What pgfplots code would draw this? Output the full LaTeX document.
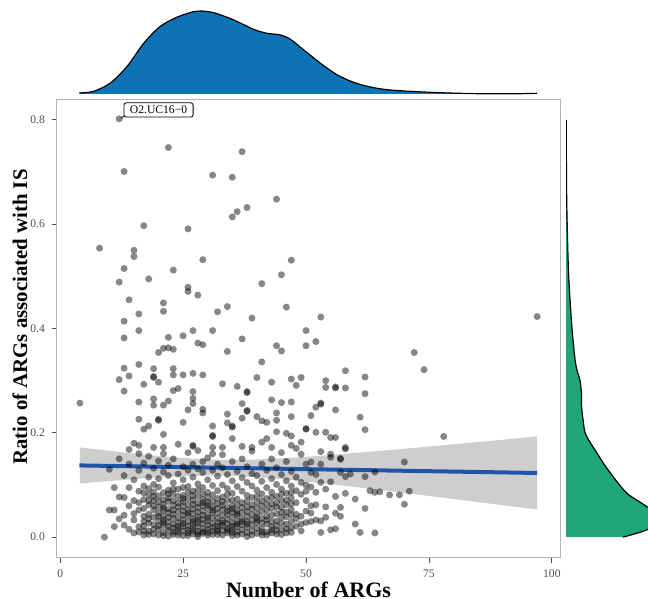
\documentclass[border=0pt]{standalone}
\usepackage{pgfplots}
\usepackage{pgfplotstable}
\pgfplotsset{compat=1.18}
\usepackage{fontspec}
\setmainfont{Liberation Serif}
\definecolor{topblue}{RGB}{14,115,180}
\definecolor{rightgreen}{RGB}{31,166,122}
\definecolor{fitblue}{RGB}{30,85,170}
\definecolor{tickgray}{RGB}{77,77,77}
\definecolor{bandgray}{RGB}{153,153,153}

\pgfplotstableread{
x y
12 0.802
22 0.747
37 0.739
13 0.701
31 0.694
35 0.690
44 0.648
38 0.632
36 0.624
35 0.614
17 0.597
26 0.591
8 0.554
15 0.550
15 0.538
29 0.532
47 0.531
13 0.515
23 0.512
12 0.489
18 0.495
26 0.479
26 0.471
28 0.464
41 0.486
45 0.503
14 0.455
21 0.449
21 0.433
16 0.428
13 0.414
32 0.432
34 0.442
39 0.420
46 0.441
53 0.422
97 0.423
16 0.396
13 0.382
22 0.383
25 0.386
27 0.396
31 0.396
37 0.380
50 0.396
20 0.354
21 0.362
22 0.363
23 0.360
28 0.372
29 0.369
34 0.356
44 0.367
45 0.357
41 0.336
13 0.324
16 0.331
19 0.323
23 0.323
12 0.302
14 0.309
17 0.293
19 0.308
19 0.306
20 0.297
23 0.311
25 0.311
27 0.314
29 0.311
33 0.294
36 0.289
40 0.306
43 0.297
47 0.303
48 0.291
49 0.306
13 0.280
16 0.259
19 0.265
19 0.253
21 0.253
22 0.261
23 0.281
24 0.285
27 0.279
27 0.266
27 0.256
26 0.244
29 0.245
29 0.238
38 0.279
38 0.277
37 0.256
38 0.243
38 0.241
43 0.263
45 0.258
47 0.259
16 0.226
17 0.207
18 0.213
20 0.226
20 0.224
21 0.197
25 0.220
31 0.213
34 0.236
34 0.219
35 0.213
35 0.211
37 0.228
40 0.231
41 0.223
42 0.220
44 0.238
44 0.224
47 0.231
44 0.202
46 0.199
47 0.194
50 0.207
31 0.195
31 0.193
35 0.189
41 0.182
42 0.189
16 0.176
21 0.172
27 0.174
27 0.176
31 0.172
33 0.172
37 0.174
39 0.172
43 0.172
47 0.176
4 0.257
50 0.367
52 0.375
72 0.354
74 0.321
58 0.319
62 0.307
62 0.275
54 0.300
54 0.287
56 0.288
56 0.286
58 0.286
53 0.257
53 0.255
52 0.249
51 0.233
56 0.244
61 0.230
62 0.206
50 0.208
52 0.201
54 0.201
55 0.191
56 0.191
78 0.193
49 0.182
58 0.172
58 0.169
55 0.159
55 0.153
57 0.151
57 0.149
53 0.164
51 0.144
53 0.140
49 0.159
70 0.144
62 0.116
64 0.125
59 0.121
58 0.116
57 0.124
63 0.089
64 0.086
65 0.087
67 0.081
69 0.081
71 0.088
70 0.063
58 0.084
60 0.073
62 0.055
56 0.078
57 0.057
57 0.040
56 0.046
54 0.038
53 0.031
60 0.025
61 0.009
64 0.008
53 0.009
55 0.014
56 0.016
54 0.058
54 0.092
52 0.086
51 0.096
55 0.106
53 0.105
51 0.124
50 0.100
50 0.070
50 0.050
51 0.060
51 0.030
49 0.025
52 0.120
50 0.140
49 0.012
49 0.040
49 0.082
49 0.105
50 0.028
50 0.088
51 0.046
52 0.033
52 0.062
9 0.000
10 0.052
10 0.130
11 0.020
11 0.052
11 0.095
12 0.077
12 0.035
12 0.150
13 0.023
13 0.042
13 0.076
13 0.118
14 0.095
14 0.015
14 0.060
14 0.140
14 0.168
15 0.070
15 0.033
15 0.008
15 0.110
15 0.045
15 0.180
16 0.052
16 0.088
16 0.020
16 0.128
16 0.066
16 0.010
16 0.160
17 0.030
17 0.072
17 0.004
17 0.098
17 0.142
17 0.055
17 0.021
18 0.012
18 0.044
18 0.081
18 0.062
18 0.115
18 0.027
18 0.155
18 0.093
19 0.006
19 0.038
19 0.070
19 0.024
19 0.101
19 0.132
19 0.052
19 0.087
19 0.172
20 0.015
20 0.031
20 0.058
20 0.079
20 0.004
20 0.112
20 0.046
20 0.146
20 0.096
21 0.022
21 0.009
21 0.063
21 0.040
21 0.085
21 0.125
21 0.051
21 0.160
21 0.072
21 0.033
22 0.013
22 0.029
22 0.047
22 0.068
22 0.090
22 0.002
22 0.118
22 0.075
22 0.138
22 0.054
23 0.018
23 0.036
23 0.005
23 0.061
23 0.083
23 0.104
23 0.044
23 0.150
23 0.025
23 0.070
24 0.010
24 0.028
24 0.049
24 0.066
24 0.092
24 0.121
24 0.037
24 0.016
24 0.178
24 0.078
25 0.003
25 0.021
25 0.042
25 0.059
25 0.080
25 0.110
25 0.033
25 0.135
25 0.068
25 0.012
25 0.095
26 0.014
26 0.030
26 0.052
26 0.074
26 0.097
26 0.008
26 0.128
26 0.041
26 0.062
26 0.162
26 0.086
27 0.006
27 0.024
27 0.045
27 0.063
27 0.088
27 0.115
27 0.035
27 0.017
27 0.140
27 0.071
27 0.054
28 0.011
28 0.027
28 0.039
28 0.057
28 0.078
28 0.102
28 0.065
28 0.001
28 0.131
28 0.020
28 0.090
28 0.166
29 0.016
29 0.034
29 0.050
29 0.072
29 0.095
29 0.007
29 0.124
29 0.060
29 0.026
29 0.145
29 0.083
30 0.009
30 0.023
30 0.043
30 0.067
30 0.086
30 0.110
30 0.031
30 0.055
30 0.152
30 0.004
30 0.076
31 0.019
31 0.037
31 0.058
31 0.081
31 0.012
31 0.099
31 0.128
31 0.047
31 0.069
31 0.160
32 0.005
32 0.028
32 0.046
32 0.064
32 0.089
32 0.117
32 0.036
32 0.015
32 0.140
32 0.074
33 0.013
33 0.032
33 0.053
33 0.077
33 0.100
33 0.022
33 0.061
33 0.133
33 0.042
33 0.158
34 0.008
34 0.026
34 0.044
34 0.070
34 0.093
34 0.120
34 0.057
34 0.017
34 0.082
35 0.015
35 0.038
35 0.060
35 0.084
35 0.003
35 0.108
35 0.048
35 0.145
35 0.071
35 0.027
36 0.010
36 0.030
36 0.051
36 0.073
36 0.097
36 0.041
36 0.126
36 0.020
36 0.062
37 0.006
37 0.024
37 0.047
37 0.066
37 0.088
37 0.114
37 0.035
37 0.150
38 0.001
38 0.019
38 0.040
38 0.058
38 0.080
38 0.105
38 0.030
38 0.069
38 0.135
39 0.012
39 0.033
39 0.054
39 0.076
39 0.098
39 0.023
39 0.122
39 0.165
40 0.007
40 0.028
40 0.045
40 0.067
40 0.090
40 0.118
40 0.038
40 0.056
41 0.016
41 0.036
41 0.060
41 0.083
41 0.004
41 0.107
41 0.049
41 0.140
42 0.010
42 0.025
42 0.052
42 0.074
42 0.095
42 0.033
42 0.128
43 0.020
43 0.042
43 0.064
43 0.086
43 0.112
43 0.008
43 0.150
43 0.055
44 0.013
44 0.031
44 0.058
44 0.078
44 0.101
44 0.045
44 0.133
45 0.005
45 0.027
45 0.048
45 0.070
45 0.092
45 0.120
45 0.038
45 0.162
46 0.016
46 0.039
46 0.062
46 0.084
46 0.108
46 0.025
46 0.145
47 0.009
47 0.030
47 0.053
47 0.075
47 0.098
47 0.043
47 0.126
48 0.021
48 0.044
48 0.066
48 0.089
48 0.035
48 0.115
48 0.170
17 0.012
17 0.040
17 0.085
18 0.005
18 0.035
18 0.070
19 0.015
19 0.060
19 0.078
20 0.022
20 0.040
20 0.068
21 0.003
21 0.028
21 0.056
22 0.020
22 0.038
22 0.083
23 0.010
23 0.052
23 0.092
24 0.004
24 0.021
24 0.058
25 0.026
25 0.050
25 0.074
26 0.003
26 0.021
26 0.046
27 0.012
27 0.030
27 0.080
28 0.006
28 0.033
28 0.048
29 0.010
29 0.042
29 0.066
30 0.015
30 0.037
30 0.061
31 0.005
31 0.026
31 0.052
32 0.011
32 0.021
32 0.055
33 0.004
33 0.027
33 0.068
34 0.013
34 0.034
34 0.050
35 0.009
35 0.021
35 0.054
36 0.004
36 0.025
36 0.045
37 0.014
37 0.030
37 0.057
38 0.009
38 0.025
38 0.049
39 0.004
39 0.043
39 0.062
40 0.017
40 0.033
40 0.078
41 0.010
41 0.027
41 0.070
42 0.004
42 0.040
42 0.063
43 0.014
43 0.030
43 0.076
44 0.006
44 0.022
44 0.066
45 0.015
45 0.057
45 0.082
46 0.008
46 0.048
46 0.071
47 0.018
47 0.064
47 0.086
}\scatterdata

\begin{document}
\begin{tikzpicture}
% ---------------- main scatter panel ----------------
\begin{axis}[
  at={(28.5pt,20.5pt)}, anchor=south west,
  scale only axis, width=251.5pt, height=229.5pt,
  xmin=-0.65, xmax=101.65, ymin=-0.04, ymax=0.84,
  xtick={0,25,50,75,100}, ytick={0,0.2,0.4,0.6,0.8},
  yticklabel style={/pgf/number format/.cd, fixed, fixed zerofill, precision=1},
  /pgf/number format/assume math mode=true,
  axis line style={draw=gray!60, line width=0.5pt},
  tick style={draw=tickgray, line width=0.4pt},
  tick align=outside, major tick length=2.5pt,
  xtick pos=lower, ytick pos=lower,
  ticklabel style={font=\fontsize{5.8pt}{7pt}\selectfont, text=tickgray},
  xlabel={Number of ARGs},
  ylabel={Ratio of ARGs associated with IS},
  xlabel style={font=\fontsize{11pt}{13pt}\selectfont\bfseries,
    at={(axis description cs:0.5,-0.0686)}, anchor=center},
  ylabel style={font=\fontsize{10.4pt}{12pt}\selectfont\bfseries,
    at={(axis description cs:-0.0736,0.525)}, anchor=center},
  clip=false,
]
\addplot[only marks, mark=*, mark size=1.75pt,
  mark options={draw=black, draw opacity=0, fill=black, fill opacity=0.47}]
  table[x=x, y=y] {\scatterdata};
\addplot[fill=bandgray, fill opacity=0.48, draw=none] coordinates {
 (4,0.1720) (10,0.1654) (15,0.1603) (20,0.1556) (25,0.1517) (30,0.1490)
 (33,0.1482) (36,0.1481) (40,0.1489) (45,0.1510) (50,0.1540) (55,0.1575)
 (60,0.1613) (65,0.1654) (70,0.1695) (75,0.1738) (80,0.1780) (85,0.1824)
 (90,0.1867) (97,0.1930)
 (97,0.0530) (90,0.0613) (85,0.0672) (80,0.0732) (75,0.0790) (70,0.0849)
 (65,0.0906) (60,0.0961) (55,0.1015) (50,0.1066) (45,0.1112) (40,0.1149)
 (36,0.1169) (33,0.1178) (30,0.1178) (25,0.1167) (20,0.1144) (15,0.1113)
 (10,0.1076) (4,0.1030)} --cycle;
\addplot[fitblue, line width=2pt] coordinates {(3.9,0.1375) (97,0.1230)};
\draw[black, line width=0.4pt] (axis cs:12.4,0.803) -- (axis cs:13.4,0.811);
\node[draw=black, fill=white, rounded corners=1.2pt, line width=0.4pt,
  font=\fontsize{5.8pt}{7pt}\selectfont, inner xsep=3pt, inner ysep=1.6pt]
  at (axis cs:20.0,0.819) {O2.UC16−0};
\end{axis}

% ---------------- top marginal density ----------------
\begin{axis}[
  at={(28.5pt,252.5pt)}, anchor=south west,
  scale only axis, width=251.5pt, height=41.5pt,
  xmin=-0.65, xmax=101.65, ymin=0, ymax=1,
  hide axis, clip=false,
]
\addplot[fill=topblue, draw=none, smooth] coordinates {
 (3.9,0.012) (6.8,0.032) (10.2,0.132) (13.6,0.332) (17.0,0.612) (20.3,0.812)
 (23.7,0.924) (27.1,0.992) (28.5,1.0) (31.2,0.98) (35.3,0.892) (39.3,0.78)
 (42.0,0.732) (44.7,0.712) (46.8,0.66) (49.5,0.532) (52.9,0.372) (56.3,0.232)
 (59.7,0.14) (63.1,0.084) (66.4,0.052) (71.2,0.032) (78.0,0.014) (84.7,0.004)
 (91.5,0.002) (97.0,0.008)} \closedcycle;
\addplot[black, line width=0.6pt, smooth] coordinates {
 (3.9,0.012) (6.8,0.032) (10.2,0.132) (13.6,0.332) (17.0,0.612) (20.3,0.812)
 (23.7,0.924) (27.1,0.992) (28.5,1.0) (31.2,0.98) (35.3,0.892) (39.3,0.78)
 (42.0,0.732) (44.7,0.712) (46.8,0.66) (49.5,0.532) (52.9,0.372) (56.3,0.232)
 (59.7,0.14) (63.1,0.084) (66.4,0.052) (71.2,0.032) (78.0,0.014) (84.7,0.004)
 (91.5,0.002) (97.0,0.008)};
\end{axis}

% ---------------- right marginal density ----------------
\begin{axis}[
  at={(283pt,20.5pt)}, anchor=south west,
  scale only axis, width=41pt, height=229.5pt,
  xmin=0, xmax=82, ymin=-0.04, ymax=0.84,
  hide axis, clip=true,
]
\addplot[fill=rightgreen, draw=none, smooth] coordinates {
 (57,0) (82,0.015) (92,0.035) (82,0.057) (75.7,0.065) (62,0.082) (57,0.092)
 (49,0.111) (44,0.124) (39,0.137) (30.7,0.162) (24,0.182) (19,0.201)
 (17,0.226) (15.6,0.250) (15.5,0.275) (14,0.300) (11,0.320) (9,0.341)
 (6.3,0.393) (4,0.456) (2.3,0.520) (0.7,0.648) (0.2,0.80)}
 -- (axis cs:0,0.80) -- (axis cs:0,0) -- cycle;
\addplot[black, line width=0.6pt, smooth] coordinates {
 (57,0) (82,0.015) (92,0.035) (82,0.057) (75.7,0.065) (62,0.082) (57,0.092)
 (49,0.111) (44,0.124) (39,0.137) (30.7,0.162) (24,0.182) (19,0.201)
 (17,0.226) (15.6,0.250) (15.5,0.275) (14,0.300) (11,0.320) (9,0.341)
 (6.3,0.393) (4,0.456) (2.3,0.520) (0.7,0.648) (0.2,0.80)};
\end{axis}

\pgfresetboundingbox
\useasboundingbox (0,0) rectangle (324pt,299.5pt);
\end{tikzpicture}
\end{document}
